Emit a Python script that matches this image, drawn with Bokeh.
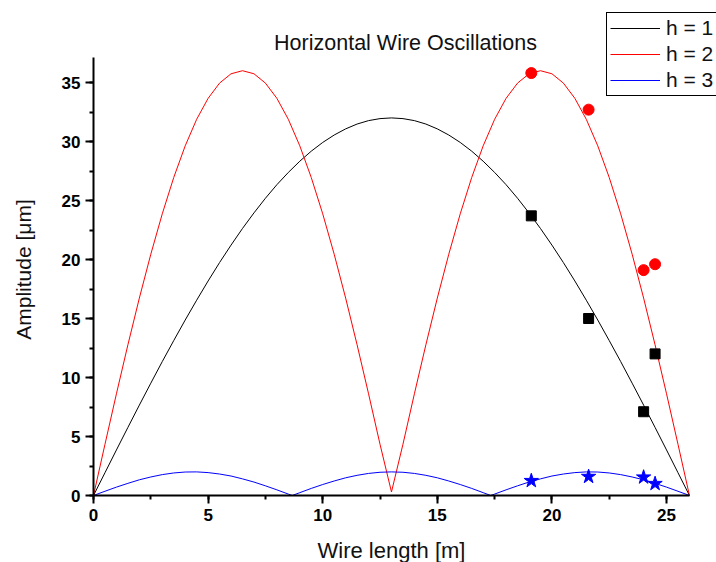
import math
from bokeh.plotting import figure
from bokeh.models import Range1d, SingleIntervalTicker, Legend, LegendItem, Label
from bokeh.embed import file_html
from bokeh.resources import INLINE

# ---- data ----
x_model = [0, 0.5, 1, 1.5, 2, 2.5, 3, 3.5, 4, 4.5, 5, 5.5, 6, 6.5, 7, 7.5, 8, 8.5, 9, 9.5,
           10, 10.5, 11, 11.5, 12, 12.5, 13, 13.5, 14, 14.5, 15, 15.5, 16, 16.5, 17, 17.5,
           18, 18.5, 19, 19.5, 20, 20.5, 21, 21.5, 22, 22.5, 23, 23.5, 24, 24.5, 25, 25.5, 26]

h1_model = [0, 1.93, 3.86, 5.77, 7.66, 9.52, 11.35, 13.13, 14.87, 16.55, 18.18, 19.74, 21.22,
            22.63, 23.95, 25.19, 26.34, 27.38, 28.33, 29.18, 29.92, 30.55, 31.07, 31.48, 31.77,
            31.94, 32.00, 31.94, 31.77, 31.48, 31.07, 30.55, 29.92, 29.18, 28.33, 27.38, 26.34,
            25.19, 23.95, 22.63, 21.22, 19.74, 18.18, 16.55, 14.87, 13.13, 11.35, 9.52, 7.66,
            5.77, 3.86, 1.93, 0]

h2_model = [0, 4.34, 8.62, 12.77, 16.73, 20.45, 23.87, 26.95, 29.63, 31.88, 33.66, 34.95, 35.74,
            36.00, 35.74, 34.95, 33.66, 31.88, 29.63, 26.95, 23.87, 20.45, 16.73, 12.77, 8.62,
            4.34, 0.3, 4.34, 8.62, 12.77, 16.73, 20.45, 23.87, 26.95, 29.63, 31.88, 33.66, 34.95,
            35.74, 36.00, 35.74, 34.95, 33.66, 31.88, 29.63, 26.95, 23.87, 20.45, 16.73, 12.77,
            8.62, 4.34, 0]

x_model3 = [0, 0.5, 1, 1.5, 2, 2.5, 3, 3.5, 4, 4.5, 5, 5.5, 6, 6.5, 7, 7.5, 8, 8.5, 8.67,
            9, 9.5, 10, 10.5, 11, 11.5, 12, 12.5, 13, 13.5, 14, 14.5, 15, 15.5, 16, 16.5, 17,
            17.33, 17.5, 18, 18.5, 19, 19.5, 20, 20.5, 21, 21.5, 22, 22.5, 23, 23.5, 24, 24.5,
            25, 25.5, 26]

h3_model = [0, 0.36, 0.71, 1.03, 1.33, 1.57, 1.77, 1.91, 1.99, 2.00, 1.94, 1.82, 1.65, 1.41,
            1.14, 0.82, 0.48, 0.12, 0,
            0.24, 0.60, 0.93, 1.23, 1.50, 1.71, 1.87, 1.97, 2.00, 1.97, 1.87, 1.71, 1.50, 1.23,
            0.93, 0.60, 0.24,
            0, 0.12, 0.48, 0.82, 1.14, 1.41, 1.65, 1.82, 1.94, 2.00, 1.99, 1.91, 1.77, 1.57,
            1.33, 1.03, 0.71, 0.36, 0]

x_meas = [19.1, 21.6, 24.0, 24.5]
h1_meas = [23.7, 15.0, 7.1, 12.0]
h2_meas = [35.8, 32.7, 19.1, 19.6]
h3_meas = [1.25, 1.6, 1.55, 1.0]

labels = ["h = 1", "h = 2", "h = 3"]
title_text = "Horizontal Wire Oscillations"
x_label = "Wire length [m]"
y_label = "Amplitude [\u03bcm]"

x_axis_span = (0, 26)
y_axis_span = (0, 37.1)

FONT = "Liberation Sans"
W, H = 716, 562

# The frame covers the whole canvas; the axes are pinned at x=0 / y=0 so that the
# legend (which sits above/right of the axes) and all texts stay inside the frame.
p = figure(width=W, height=H, output_backend="svg", toolbar_location=None,
           x_range=Range1d(-4.058, 27.18), y_range=Range1d(-5.678, 41.95),
           min_border_left=0, min_border_right=0, min_border_top=0, min_border_bottom=0,
           background_fill_color="white", border_fill_color="white")
p.outline_line_color = None
p.grid.visible = False
p.title.text = ""
p.title.visible = False

for ax in (p.xaxis[0], p.yaxis[0]):
    ax.fixed_location = 0
    ax.ticker = SingleIntervalTicker(interval=5, num_minor_ticks=2)
    ax.axis_line_width = 2
    ax.axis_line_color = "black"
    ax.major_tick_line_width = 2
    ax.minor_tick_line_width = 2
    ax.major_tick_in = 0
    ax.major_tick_out = 8
    ax.minor_tick_in = 0
    ax.minor_tick_out = 4
    ax.major_label_text_font = FONT
    ax.major_label_text_font_size = "17px"
    ax.major_label_text_font_style = "bold"
    ax.major_label_text_color = "black"
    ax.major_label_standoff = 5

p.xaxis.bounds = x_axis_span
p.yaxis.bounds = y_axis_span

l1 = p.line(x_model, h1_model, line_color="black", line_width=1)
l2 = p.line(x_model, h2_model, line_color="red", line_width=1)
l3 = p.line(x_model3, h3_model, line_color="blue", line_width=1)

p.scatter(x_meas, h1_meas, marker="square", size=10, color="black")
p.scatter(x_meas, h2_meas, marker="circle", size=11, color="red")
p.scatter(x_meas, h3_meas, marker="star", size=15, color="blue")

text_style = dict(x_units="screen", y_units="screen", text_font=FONT,
                  text_color="#111111", text_baseline="middle", text_align="center")
p.add_layout(Label(x=405, y=H - 42, text=title_text, text_font_size="21.5px", **text_style))
p.add_layout(Label(x=391, y=H - 550, text=x_label, text_font_size="22px", **text_style))
p.add_layout(Label(x=23, y=H - 269, text=y_label, text_font_size="21px",
                   angle=math.pi / 2, **text_style))

legend = Legend(items=[LegendItem(label=labels[0], renderers=[l1]),
                       LegendItem(label=labels[1], renderers=[l2]),
                       LegendItem(label=labels[2], renderers=[l3])],
                location=(606, H - 96))
legend.border_line_color = "black"
legend.border_line_width = 1
legend.border_line_alpha = 1
legend.background_fill_color = "white"
legend.background_fill_alpha = 1
legend.label_text_font = FONT
legend.label_text_font_size = "21px"
legend.label_text_color = "#111111"
legend.glyph_width = 50
legend.glyph_height = 20
legend.label_height = 20
legend.label_width = 60
legend.label_standoff = 6
legend.spacing = 2
legend.padding = 3
legend.margin = 0
p.add_layout(legend, "center")

open("out.html", "w").write(file_html(p, INLINE))
